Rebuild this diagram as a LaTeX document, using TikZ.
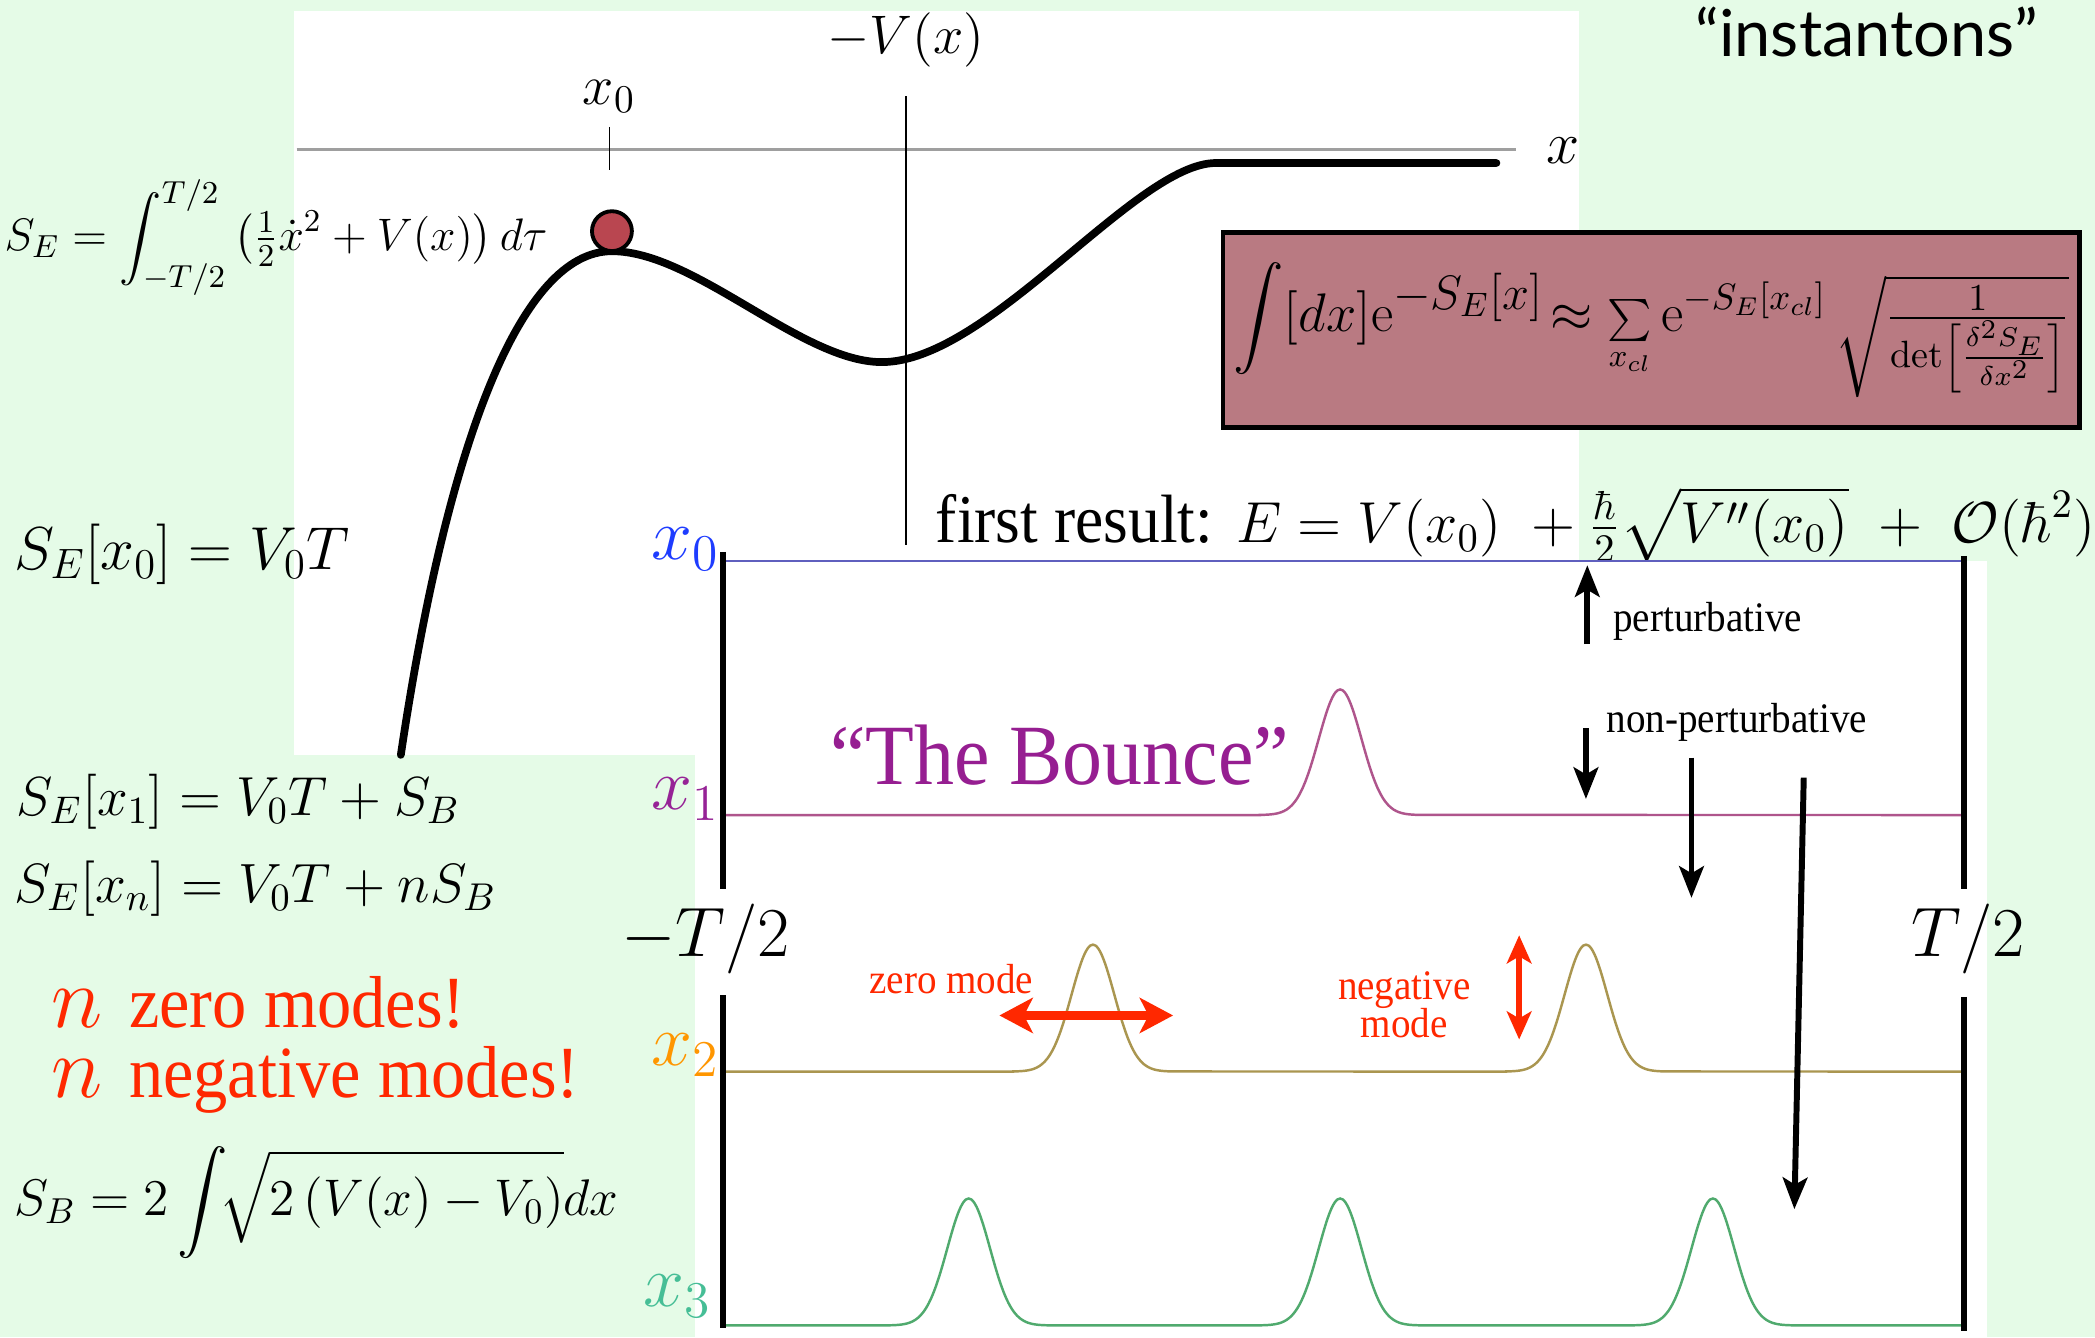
\RequirePackage{fix-cm}
\documentclass[tikz,border=0pt]{standalone}
\usepackage{amsmath}
\usepackage{fontspec}
\newfontfamily\timesfont[FakeStretch=0.93]{Liberation Serif}
\newfontfamily\gillfont{Lato}
\usepackage{tikz}
\usetikzlibrary{arrows.meta,positioning}

\definecolor{bggreen}{RGB}{229,251,231}
\definecolor{ballred}{RGB}{185,70,80}
\definecolor{boxmauve}{RGB}{185,122,130}
\definecolor{lineblue}{RGB}{95,95,190}
\definecolor{labblue}{RGB}{30,60,255}
\definecolor{linepink}{RGB}{175,85,140}
\definecolor{labpurple}{RGB}{150,35,150}
\definecolor{lineolive}{RGB}{170,150,80}
\definecolor{laborange}{RGB}{255,150,0}
\definecolor{linegreen}{RGB}{80,170,110}
\definecolor{labteal}{RGB}{70,190,150}
\definecolor{modered}{RGB}{255,40,0}
\definecolor{bouncepurple}{RGB}{150,30,145}

\begin{document}
\begin{tikzpicture}[
  x=0.134mm, y=-0.134mm,
  every node/.style={inner sep=0pt},
  eqn/.style ={font=\fontsize{#1}{#1}\selectfont},
  txt/.style ={font=\timesfont\fontsize{#1}{#1}\selectfont},
  curve/.style ={line width=2.2pt, line cap=round},
  axisline/.style={draw=gray!75, line width=0.9pt},
  thinline/.style={line width=0.4pt},
  bar/.style   ={line width=1.8pt},
  pathline/.style={line width=0.7pt},
  ball/.style  ={circle, draw, line width=1.1pt, fill=ballred, minimum size=4mm},
  pibox/.style ={draw, line width=1.3pt, fill=boxmauve,
                 minimum width=85.9mm, minimum height=19.6mm},
  blkarr/.style={-{Stealth[length=9pt,width=7pt,inset=2pt]}, line width=1.7pt},
  redarr/.style={{Stealth[length=9.5pt,width=10pt,inset=2.5pt]}-{Stealth[length=9.5pt,width=10pt,inset=2.5pt]},
                 draw=modered, line width=2.4pt},
  redarrv/.style={{Stealth[length=8pt,width=7pt,inset=2pt]}-{Stealth[length=8pt,width=7pt,inset=2pt]},
                 draw=modered, line width=1.6pt}
]
\useasboundingbox (0,0) rectangle (1568,1001);

% --- background panels ---
\fill[bggreen] (0,0) rectangle (1568,1001);
\fill[white] (220,8) rectangle (1182,565);
\fill[white] (520,420) rectangle (1487,1001);

% --- potential -V(x) ---
\draw[axisline] (222,112) -- (1135,112);
\draw[thinline] (456,95) -- (456,127);
\draw[thinline] (678,72) -- (678,408);
\node[eqn=15.5] (vlab) at (678,30) {$-V(x)$};
\node[eqn=16] (x0top) at (456,72) {$x_0$};
\node[eqn=17] (xlab) at (1170,113) {$x$};
\draw[curve] (300,565) .. controls (335,330) and (390,188) .. (458,188)
             .. controls (520,188) and (600,271) .. (660,271)
             .. controls (740,271) and (850,122) .. (910,122) -- (1120,122);
\node[ball] (ball) at (458,173) {};

% --- path integral ---
\node[pibox] (pint) at (1236,247) {\fontsize{15.5}{15.5}\selectfont
  $\displaystyle\int[dx]\mathrm{e}^{\mbox{\fontsize{13.8}{13.8}\selectfont$-S_E[x]$}}\!\approx
   \mbox{\fontsize{13}{13}\selectfont$\sum\limits_{x_{cl}}$}\,
   \mathrm{e}^{\mbox{\fontsize{10.5}{10.5}\selectfont$-S_E[x_{cl}]$}}
   \,{\textstyle\sqrt{\frac{1}{\det\left[\frac{\delta^2S_E}{\delta x^2}\right]}}}$};

\node[font=\gillfont\fontsize{18.5}{18.5}\selectfont] (title) at (1397,24) {“instantons”};

% --- left column formulas ---
\node[eqn=13, anchor=west] (action) at (3,178)
  {$S_E=\displaystyle\int_{-T/2}^{T/2}\left(\tfrac12\dot x^2+V(x)\right)d\tau$};
\node[eqn=17.3, anchor=west] (se0) at (10,415) {$S_E[x_0]=V_0T$};
\node[eqn=15.7, anchor=west] (se1) at (12,600) {$S_E[x_1]=V_0T+S_B$};
\node[eqn=15.8, anchor=west] (sen) at (10,665) {$S_E[x_n]=V_0T+nS_B$};
\node[anchor=west, text=modered] (zm) at (38,750)
  {\fontsize{25}{25}\selectfont$n$\ \timesfont\fontsize{21}{21}\selectfont zero modes!};
\node[anchor=west, text=modered] (nm) at (38,808)
  {\fontsize{25}{25}\selectfont$n$\ \timesfont\fontsize{21}{21}\selectfont negative modes!};
\node[eqn=14.7, anchor=west] (sb) at (10,900)
  {$S_B=2\displaystyle\int\!\!\sqrt{2\left(V(x)-V_0\right)}dx$};

% --- first result ---
\node[anchor=base west] (first) at (700,406)
  {{\timesfont\fontsize{19.5}{19.5}\selectfont first result:}\ \ \fontsize{16.5}{16.5}\selectfont
   $E=V(x_0)\ +\frac{\hbar}{2}\sqrt{V''(x_0)}\ +\;\mathcal{O}(\hbar^2)$};

% --- paths in Euclidean time ---
\draw[pathline, draw=lineblue] (541,420) -- (1470,420);
\draw[pathline, draw=linepink] (541,610) -- (943,610)
  -- plot[domain=943:1063, samples=61, smooth] (\x,{610-94*exp(-(\x-1003)*(\x-1003)/512)})
  -- (1470,610);
\draw[pathline, draw=lineolive] (541,802) -- (758,802)
  -- plot[domain=758:878, samples=61, smooth] (\x,{802-95*exp(-(\x-818)*(\x-818)/512)})
  -- (1127,802)
  -- plot[domain=1127:1247, samples=61, smooth] (\x,{802-95*exp(-(\x-1187)*(\x-1187)/512)})
  -- (1470,802);
\draw[pathline, draw=linegreen] (541,992) -- (665,992)
  -- plot[domain=665:785, samples=61, smooth] (\x,{992-95*exp(-(\x-725)*(\x-725)/512)})
  -- (943,992)
  -- plot[domain=943:1063, samples=61, smooth] (\x,{992-95*exp(-(\x-1003)*(\x-1003)/512)})
  -- (1222,992)
  -- plot[domain=1222:1342, samples=61, smooth] (\x,{992-95*exp(-(\x-1282)*(\x-1282)/512)})
  -- (1470,992);

% --- time boundaries ---
\draw[bar] (541,413) -- (541,665);
\draw[bar] (541,745) -- (541,994);
\draw[bar] (1470,416) -- (1470,665);
\draw[bar] (1470,746) -- (1470,996);
\node[eqn=20] (tl) at (528,703) {$-T/2$};
\node[eqn=20] (tr) at (1473,703) {$T/2$};

\node[eqn=21, anchor=east, text=labblue]   (lx0) at (539,411) {$x_0$};
\node[eqn=21, anchor=east, text=labpurple] (lx1) at (539,598) {$x_1$};
\node[eqn=21, anchor=east, text=laborange] (lx2) at (539,790) {$x_2$};
\node[eqn=21, anchor=east, text=labteal]   (lx3) at (533,970) {$x_3$};

\node[txt=24.5, text=bouncepurple] (bounce) at (793,565) {“The Bounce”};

% --- perturbative / non-perturbative ---
\node[txt=12, anchor=west] (pert) at (1207,465) {perturbative};
\node[txt=12, anchor=west] (npert) at (1202,541) {non-perturbative};
\coordinate (p1) at (1188,482);  \coordinate (p2) at (1188,423);
\coordinate (n1) at (1187,545);  \coordinate (n2) at (1187,598);
\coordinate (n3) at (1266,567);  \coordinate (n4) at (1266,672);
\coordinate (n5) at (1350,582);  \coordinate (n6) at (1343,905);
\draw[blkarr] (p1) -- (p2);
\draw[blkarr] (n1) -- (n2);
\draw[blkarr] (n3) -- (n4);
\draw[blkarr] (n5) -- (n6);

% --- modes ---
\node[txt=12, text=modered] (zlab) at (712,733) {zero mode};
\node[txt=12, text=modered, align=center] (nlab) at (1051,752) {negative\\[-1pt]mode};
\coordinate (z1) at (748,760);   \coordinate (z2) at (878,760);
\coordinate (v1) at (1137,700);  \coordinate (v2) at (1137,778);
\draw[redarr] (z1) -- (z2);
\draw[redarrv] (v1) -- (v2);

\end{tikzpicture}
\end{document}
